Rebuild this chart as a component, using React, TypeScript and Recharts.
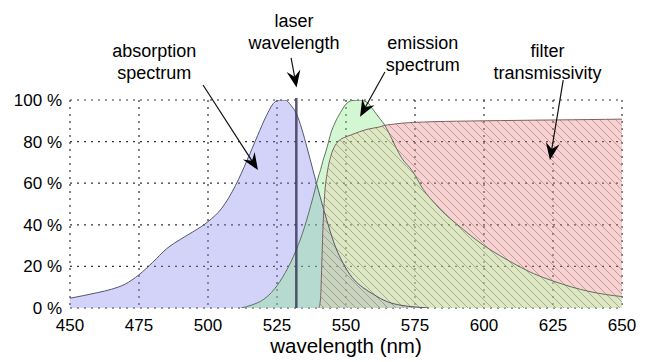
import React from 'react';
import {
  ComposedChart,
  Area,
  XAxis,
  YAxis,
  CartesianGrid,
  ReferenceLine,
  ReferenceDot,
} from 'recharts';

// ---- data (wavelength in nm, value in %) ----
const wavelengthTicks = [450, 475, 500, 525, 550, 575, 600, 625, 650];
const percentTicks = [0, 20, 40, 60, 80, 100];

const absorption: [number, number][] = [
  [450, 4.7], [455, 6], [460, 7.4], [465, 9], [470, 11.5], [475, 16],
  [480, 22], [485, 28.5], [490, 33], [495, 37], [500, 41.5], [505, 48],
  [510, 59], [514, 70.5], [518, 83], [521, 92], [524, 98.8], [526, 100],
  [528, 100], [530, 97.5], [532, 93.5], [534, 86], [536, 76.5], [538, 66.5],
  [540, 56.5], [542, 47], [544, 38], [546, 30], [548, 24], [550, 19],
  [553, 13.5], [556, 10], [560, 6.5], [565, 3], [570, 1.3], [575, 0.5], [580, 0],
];

// emission and filter share one wavelength grid
const emissionNm = [
  512, 516, 520, 524, 528, 532, 535, 538, 540.2, 540.8, 541.2, 541.7, 542.3,
  543.2, 544.5, 546, 548, 550, 552, 555, 558, 560, 562, 564, 566, 568, 570,
  574, 578, 582, 586, 590, 595, 600, 606, 612, 618, 625, 632, 638, 644, 650,
];
const emissionPct = [
  0, 1.5, 4, 9, 17, 28, 39, 53, 64, 66.5, 68.5, 71, 73.5,
  77.5, 84, 89, 94, 98, 99.7, 100, 98.5, 95, 91.5, 88, 83, 77.5, 72.5,
  66, 57, 50.5, 45, 40.5, 35, 30, 25, 20.5, 16.5, 13, 10, 8, 6.5, 5.5,
];
const filterPct = [
  null, null, null, null, null, null, null, null, 0, 5, 20, 40, 55,
  65, 73, 78, 81, 82.3, 83.3, 84.8, 86, 86.5, 87, 87.8, 88.2, 88.5, 88.8,
  89.2, 89.4, 89.6, 89.7, 89.8, 89.9, 90, 90.1, 90.2, 90.3, 90.4, 90.5, 90.6, 90.7, 90.8,
];

const laserNm = 532;

// callout text anchors, arrow tails and arrow tips, in (nm, %)
const callouts = [
  { lines: ['absorption', 'spectrum'], text: [480.5, 118.3], tail: [498.2, 107.2], tip: [518.1, 66.3] },
  { lines: ['laser', 'wavelength'], text: [531.2, 132.7], tail: [530.1, 120.2], tip: [532.1, 106.0] },
  { lines: ['emission', 'spectrum'], text: [577.8, 122.1], tail: [564.1, 113.5], tip: [555.1, 92] },
  { lines: ['filter', 'transmissivity'], text: [623, 118.3], tail: [628.7, 109.6], tip: [623.9, 71.2] },
];

// ---- merged table for the chart ----
type Row = {
  nm: number;
  absorption: number | null;
  emission: number | null;
  filter: number | null;
  shared: number | null; // part of the filter band lying under the emission curve
  filterBand: [number, number] | null; // part of the filter band above the emission curve
};

const rows = new Map<number, Row>();
const rowAt = (nm: number): Row => {
  let r = rows.get(nm);
  if (!r) {
    r = { nm, absorption: null, emission: null, filter: null, shared: null, filterBand: null };
    rows.set(nm, r);
  }
  return r;
};
absorption.forEach(([nm, v]) => {
  rowAt(nm).absorption = v;
});
emissionNm.forEach((nm, i) => {
  const r = rowAt(nm);
  const e = emissionPct[i];
  const f = filterPct[i];
  r.emission = e;
  if (f !== null) {
    r.filter = f;
    const lo = Math.min(e, f);
    r.shared = lo;
    r.filterBand = [lo, f];
  }
});
const table = Array.from(rows.values()).sort((a, b) => a.nm - b.nm);

const FONT = '"Liberation Sans", Arial, Helvetica, sans-serif';

const ArrowShape = (props: any) => {
  const { x1, y1, x2, y2 } = props;
  const dx = x2 - x1;
  const dy = y2 - y1;
  const len = Math.hypot(dx, dy) || 1;
  const ux = dx / len;
  const uy = dy / len;
  const headLen = 17;
  const headHalf = 7;
  const notch = 6;
  const bx = x2 - ux * headLen;
  const by = y2 - uy * headLen;
  const px = -uy;
  const py = ux;
  const lx = bx + px * headHalf;
  const ly = by + py * headHalf;
  const rx = bx - px * headHalf;
  const ry = by - py * headHalf;
  const kx = x2 - ux * (headLen - notch);
  const ky = y2 - uy * (headLen - notch);
  return (
    <g>
      <line x1={x1} y1={y1} x2={kx} y2={ky} stroke="#111" strokeWidth={1.2} />
      <polygon points={`${x2},${y2} ${lx},${ly} ${kx},${ky} ${rx},${ry}`} fill="#000" />
    </g>
  );
};

const makeTextShape = (lines: string[]) => (props: any) => {
  const { cx, cy } = props;
  return (
    <text x={cx} y={cy - 5} textAnchor="middle" fontFamily={FONT} fontSize={18} fill="#000">
      {lines.map((l, i) => (
        <tspan key={i} x={cx} dy={i === 0 ? 0 : 22}>
          {l}
        </tspan>
      ))}
    </text>
  );
};

const areaCommon = {
  type: 'monotone' as const,
  connectNulls: true,
  dot: false,
  activeDot: false,
  isAnimationActive: false,
};

export default function App() {
  return (
    <div style={{ position: 'absolute', left: 0, top: 0, width: 647, height: 362, background: '#fff' }}>
      <ComposedChart
        width={647}
        height={362}
        data={table}
        margin={{ top: 100, right: 25, bottom: 0, left: 0 }}
      >
        <defs>
          <pattern id="filterHatch" patternUnits="userSpaceOnUse" width={8} height={8}>
            <path d="M-2,-2 L10,10 M-2,6 L2,10 M6,-2 L10,2" stroke="#707070" strokeWidth={0.85} />
          </pattern>
        </defs>
        <CartesianGrid stroke="#333" strokeDasharray="2 5" strokeWidth={1.2} />
        <XAxis
          dataKey="nm"
          type="number"
          domain={[450, 650]}
          ticks={wavelengthTicks}
          allowDataOverflow
          axisLine={false}
          tickLine={false}
          tickMargin={5}
          height={54}
          tick={{ fontSize: 17, fill: '#000', fontFamily: FONT }}
          label={{
            value: 'wavelength (nm)',
            position: 'insideBottom',
            offset: 9,
            fontSize: 20.5,
            fill: '#000',
            fontFamily: FONT,
          }}
        />
        <YAxis
          type="number"
          domain={[0, 100]}
          ticks={percentTicks}
          allowDataOverflow
          axisLine={false}
          tickLine={false}
          width={70}
          tickFormatter={(v: number) => `${v} %`}
          tick={{ fontSize: 17, fill: '#000', fontFamily: FONT }}
        />
        {/* fills */}
        <Area {...areaCommon} dataKey="absorption" fill="#8080f0" fillOpacity={0.35} stroke="none" />
        <Area {...areaCommon} dataKey="emission" fill="#80e880" fillOpacity={0.35} stroke="none" />
        <Area {...areaCommon} dataKey="filterBand" fill="#f08080" fillOpacity={0.36} stroke="none" />
        <Area {...areaCommon} dataKey="shared" fill="#f2c89a" fillOpacity={0.32} stroke="none" />
        <Area {...areaCommon} dataKey="filter" fill="url(#filterHatch)" stroke="none" />
        {/* outlines */}
        <Area {...areaCommon} dataKey="absorption" fill="none" stroke="#55556e" strokeWidth={1} />
        <Area {...areaCommon} dataKey="emission" fill="none" stroke="#5e725e" strokeWidth={1} />
        <Area {...areaCommon} dataKey="filter" fill="none" stroke="#7e6262" strokeWidth={1} />
        <ReferenceLine
          segment={[{ x: laserNm, y: 0 }, { x: laserNm, y: 101 }]}
          stroke="#3a3a5a"
          strokeOpacity={0.85}
          strokeWidth={2.5}
          ifOverflow="visible"
        />
        {callouts.map((c, i) => (
          <ReferenceLine
            key={`arrow-${i}`}
            segment={[{ x: c.tail[0], y: c.tail[1] }, { x: c.tip[0], y: c.tip[1] }]}
            ifOverflow="visible"
            shape={ArrowShape}
          />
        ))}
        {callouts.map((c, i) => (
          <ReferenceDot
            key={`text-${i}`}
            x={c.text[0]}
            y={c.text[1]}
            r={0}
            ifOverflow="visible"
            shape={makeTextShape(c.lines)}
          />
        ))}
      </ComposedChart>
    </div>
  );
}
